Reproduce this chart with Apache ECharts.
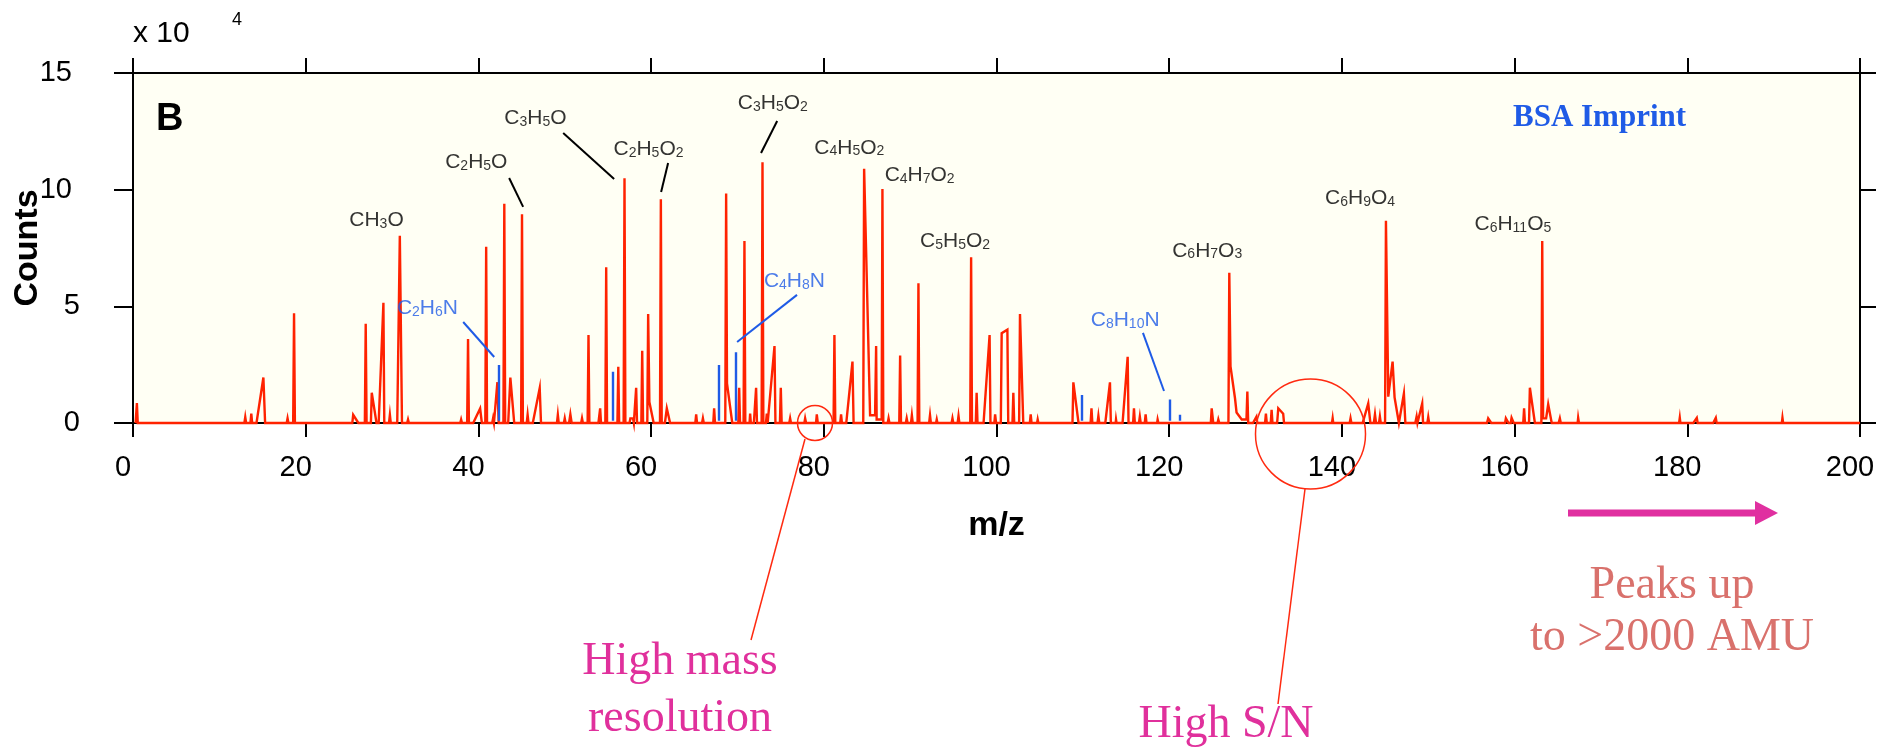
<!DOCTYPE html>
<html lang="en">
<head>
<meta charset="UTF-8">
<title>BSA Imprint</title>
<script src="https://cdn.jsdelivr.net/npm/echarts@6.0.0/dist/echarts.min.js"></script>
<style>
  html, body { margin: 0; padding: 0; background: #fff; }
  #main { width: 1894px; height: 750px; }
</style>
</head>
<body>
<div id="main"></div>
<script>
// spectrum trace, [m/z, counts x 10^4]
var trace0to50 = [
  [0.3,0],[0.45,0.85],[0.55,0],
  [12.9,0],[13.0,0.25],[13.1,0],[13.6,0],[13.7,0.4],[13.8,0],
  [14.3,0],[15.1,1.95],[15.3,0],
  [17.8,0],[17.9,0.2],[18.0,0],[18.55,0],[18.65,4.7],[18.75,0],
  [25.4,0],[25.5,0.35],[26.1,0],[26.85,0],[26.95,4.25],[27.05,0],
  [27.55,0],[27.65,1.3],[28.2,0],[28.45,0],[29.0,5.15],[29.1,0],
  [29.65,0],[29.75,0.35],[29.85,0],
  [30.6,0],[30.9,8.02],[31.15,0],[31.75,0],[31.85,0.15],[31.95,0],
  [37.9,0],[38.0,0.15],[38.1,0],[38.7,0],[38.8,3.6],[38.9,0],
  [39.4,0],[40.2,0.62],[40.4,0],[40.8,0],[40.9,7.55],[41.0,0],
  [41.6,0],[41.7,0.2],[41.8,0],[42.0,0],[42.2,1.75],[42.35,0],
  [42.9,0],[43.0,9.4],[43.1,0],[43.45,0],[43.7,1.95],[44.15,0],
  [44.95,0],[45.05,8.95],[45.15,0],[45.6,0],[45.7,0.35],[45.8,0],
  [46.3,0],[47.1,1.5],[47.25,0],
  [49.1,0],[49.2,0.35],[49.3,0],[49.9,0],[50.0,0.2],[50.1,0]
];
var trace50to100 = [
  [50.5,0],[50.65,0.37],[50.8,0],[51.9,0],[52.0,0.2],[52.1,0],
  [52.65,0],[52.75,3.77],[52.85,0],[53.9,0],[54.1,0.63],[54.2,0],
  [54.7,0],[54.8,6.67],[54.9,0],[56.1,0],[56.2,2.41],[56.3,0],
  [56.82,0],[56.92,10.49],[57.02,0],[57.5,0],[57.6,0.2],[57.9,0.2],[58.0,0],
  [58.17,0],[58.27,1.51],[58.37,0],[58.87,0],[58.97,3.1],[59.07,0],
  [59.56,0],[59.66,4.67],[59.8,0.9],[60.3,0],
  [61.03,0],[61.13,9.59],[61.23,0],[61.6,0],[61.82,0.63],[62.2,0],
  [65.12,0],[65.22,0.37],[65.32,0],[65.9,0],[66.0,0.2],[66.1,0],
  [67.2,0],[67.3,0.63],[67.4,0],
  [68.59,0],[68.69,9.84],[68.79,1.7],[69.4,0],
  [70.1,0],[70.2,1.51],[70.3,0],[70.71,0],[70.81,7.8],[70.91,0],
  [71.4,0],[71.47,0.4],[71.55,0],[71.9,0],[72.16,1.51],[72.26,0],
  [72.8,0],[72.9,11.17],[73.0,0],[73.3,0],[73.4,0.4],[73.5,0],
  [73.7,0],[74.29,3.3],[74.4,0],[74.92,0],[75.02,1.51],[75.12,0],
  [76.0,0],[76.1,0.2],[76.2,0],[77.75,0],[77.84,0.2],[77.95,0],
  [79.1,0],[79.19,0.37],[79.3,0],
  [81.13,0],[81.23,3.77],[81.33,0],[81.9,0],[82.0,0.37],[82.1,0],
  [82.6,0],[83.32,2.63],[83.45,0],
  [84.57,0],[84.67,10.9],[85.36,0.33],[85.94,0.33],[86.06,3.3],[86.12,0.15],[86.7,0.15],
  [86.79,10.03],[86.89,0],
  [87.4,0],[87.5,0.2],[87.6,0],[88.74,0],[88.84,2.89],[88.94,0],
  [89.5,0],[89.6,0.2],[89.7,0],[90.1,0],[90.2,0.33],[90.3,0],
  [90.86,0],[90.96,5.99],[91.06,0],[92.2,0],[92.3,0.33],[92.4,0],
  [93.0,0],[93.08,0.15],[93.16,0],
  [94.8,0],[94.9,0.2],[95.0,0],[95.5,0],[95.6,0.3],[95.7,0],
  [96.96,0],[97.06,7.1],[97.16,0],[97.6,0],[97.7,1.3],[97.8,0],
  [98.5,0],[99.2,3.77],[99.3,0],[99.75,0],[99.84,0.37],[99.95,0]
];
var trace100to150 = [
  [100.5,0],[100.6,3.85],[101.26,4.0],[101.36,0],
  [101.85,0],[101.95,1.3],[102.05,0],[102.62,0],[102.72,4.67],[103.1,0],
  [103.86,0],[103.96,0.37],[104.06,0],[104.7,0],[104.77,0.15],[104.85,0],
  [108.8,0],[108.9,1.74],[109.5,0],
  [110.9,0],[111.0,0.63],[111.1,0],[111.7,0],[111.8,0.3],[111.9,0],
  [112.6,0],[113.14,1.74],[113.24,0],[113.8,0],[113.84,0.15],[113.9,0],
  [114.6,0],[115.19,2.84],[115.29,0],[115.82,0],[115.92,0.63],[116.02,0],
  [116.5,0],[116.6,0.27],[116.7,0],[117.17,0],[117.27,0.37],[117.37,0],
  [118.6,0],[118.66,0.15],[118.75,0],
  [124.82,0],[124.92,0.63],[125.1,0],[125.6,0],[125.69,0.15],[125.8,0],
  [126.86,0],[126.96,6.44],[127.1,2.42],[127.62,1.06],[127.8,0.45],[128.4,0.15],
  [128.95,0.15],[129.05,1.35],[129.15,0],
  [129.7,0],[130.1,0.27],[130.2,0],[131.1,0],[131.2,0.4],[131.3,0],
  [131.76,0],[131.86,0.56],[131.96,0],[132.5,0],[132.63,0.63],[133.2,0.4],[133.3,0],
  [138.85,0],[138.93,0.2],[139.0,0],[140.9,0],[141.0,0.2],[141.1,0],
  [142.4,0],[143.05,0.84],[143.3,0],[143.7,0],[143.83,0.37],[143.95,0],
  [144.3,0],[144.4,0.27],[144.5,0],
  [145.0,0],[145.1,8.67],[145.37,1.13],[145.87,2.63],[146.1,1.1],[146.6,0],
  [147.18,1.26],[147.35,0],
  [148.5,0],[148.65,0.27],[148.75,0],[148.9,0],[149.3,0.84],[149.4,0],
  [149.9,0],[150.0,0.25],[150.1,0]
];
var trace150to200 = [
  [156.8,0],[156.94,0.2],[157.3,0],[158.9,0],[158.99,0.2],[159.3,0],
  [159.55,0],[159.65,0.22],[159.9,0],
  [161.0,0],[161.1,0.63],[161.2,0],[161.67,0],[161.77,1.51],[162.35,0],
  [163.1,0],[163.2,7.8],[163.3,0.2],[163.65,0.2],[163.89,0.8],[164.3,0],
  [165.1,0],[165.24,0.2],[165.35,0],[167.3,0],[167.36,0.22],[167.45,0],
  [179.05,0],[179.13,0.22],[179.2,0],[180.7,0],[181.1,0.22],[181.2,0],
  [183.0,0],[183.3,0.22],[183.4,0],[190.95,0],[191.02,0.22],[191.1,0],
  [200,0]
];

// nitrogen containing peaks (blue sticks): [m/z, counts x 10^4]
var nitrogenPeaks = [[42.4,2.49],[55.6,2.2],[67.84,2.49],[69.85,3.03],[109.9,1.2],[120.1,1.01],[121.2,0.35]];

// peak labels: [text x, text y, formula]
var oxyLabels = [
  [28.2,8.74,'CH3O'],[39.76,11.23,'C2H5O'],[46.6,13.12,'C3H5O'],[59.7,11.8,'C2H5O2'],
  [74.1,13.75,'C3H5O2'],[82.95,11.85,'C4H5O2'],[91.1,10.67,'C4H7O2'],[95.2,7.84,'C5H5O2'],
  [124.4,7.44,'C6H7O3'],[142.1,9.69,'C6H9O4'],[159.8,8.57,'C6H11O5']
];
var nitroLabels = [[34.1,4.97,'C2H6N'],[76.6,6.13,'C4H8N'],[114.9,4.46,'C8H10N']];

// leader lines: [x1, y1, x2, y2]
var oxyLeaders = [[43.56,10.5,45.18,9.26],[49.82,12.43,55.72,10.46],[61.97,11.14,61.16,9.9],[74.6,12.94,72.73,11.57]];
var nitroLeaders = [[38.24,4.33,41.83,2.83],[76.9,5.49,69.96,3.47],[116.96,3.86,119.4,1.37]];

var xTicks = { min: 0, max: 200, step: 20 };
var yTicks = { min: 0, max: 15, step: 5 };

var RED = '#ff2200';
var BLUE = '#1f5be6';
var SANS = 'Liberation Sans, Arial, sans-serif';
var SERIF = 'Liberation Serif, Times New Roman, serif';

function richFormula(f) {
  return f.replace(/([A-Za-z]+)|(\d+)/g, function (m, l, d) {
    return l ? '{a|' + l + '}' : '{s|' + d + '}';
  });
}
function labelSeries(list, color) {
  return {
    type: 'scatter', xAxisIndex: 0, yAxisIndex: 0, silent: true, z: 5,
    symbolSize: 1, itemStyle: { color: 'rgba(0,0,0,0)' },
    data: list.map(function (d) { return { value: [d[0], d[1]], name: d[2] }; }),
    label: {
      show: true, position: 'inside',
      formatter: function (p) { return richFormula(p.name); },
      rich: {
        a: { fontSize: 21, fontFamily: SANS, color: color, lineHeight: 24, verticalAlign: 'bottom' },
        s: { fontSize: 14, fontFamily: SANS, color: color, lineHeight: 24, verticalAlign: 'bottom' }
      }
    }
  };
}
function leaderSeries(list, color) {
  return {
    type: 'lines', coordinateSystem: 'cartesian2d', xAxisIndex: 0, yAxisIndex: 0, silent: true, z: 4,
    lineStyle: { color: color, width: 2, opacity: 1, curveness: 0 },
    data: list.map(function (d) { return { coords: [[d[0], d[1]], [d[2], d[3]]] }; })
  };
}

var myChart = echarts.init(document.getElementById('main'));

var option = {
  animation: false,
  backgroundColor: '#ffffff',
  grid: {
    left: 133, right: 34, top: 73, bottom: 327, containLabel: false, outerBoundsMode: 'none',
    show: true, backgroundColor: '#fffff4', borderWidth: 0
  },
  xAxis: [
    {
      type: 'value', position: 'bottom', min: xTicks.min, max: xTicks.max, interval: xTicks.step,
      axisLine: { show: true, onZero: false, lineStyle: { color: '#000', width: 2 } },
      axisTick: { show: true, inside: false, length: 14, lineStyle: { color: '#000', width: 2 } },
      axisLabel: { color: '#000', fontSize: 29, fontFamily: SANS, margin: 30, padding: [0, 20, 0, 0] },
      splitLine: { show: false },
      name: 'm/z', nameLocation: 'middle', nameGap: 86, nameMoveOverlap: false,
      nameTextStyle: { color: '#000', fontSize: 34, fontWeight: 'bold', fontFamily: SANS }
    },
    {
      type: 'value', position: 'top', min: xTicks.min, max: xTicks.max, interval: xTicks.step,
      axisLine: { show: true, onZero: false, lineStyle: { color: '#000', width: 2 } },
      axisTick: { show: true, inside: false, length: 15, lineStyle: { color: '#000', width: 2 } },
      axisLabel: { show: false }, splitLine: { show: false }
    }
  ],
  yAxis: [
    {
      type: 'value', position: 'left', min: yTicks.min, max: yTicks.max, interval: yTicks.step,
      axisLine: { show: true, onZero: false, lineStyle: { color: '#000', width: 2 } },
      axisTick: { show: true, inside: false, length: 19, lineStyle: { color: '#000', width: 2 } },
      axisLabel: {
        color: '#000', fontSize: 29, fontFamily: SANS, margin: 53,
        formatter: function (v) { return v >= 10 ? '{w|' + v + '}' : '{n|' + v + '}'; },
        rich: {
          w: { fontSize: 29, fontFamily: SANS, color: '#000', padding: [0, 8, 0, 0] },
          n: { fontSize: 29, fontFamily: SANS, color: '#000' }
        }
      },
      splitLine: { show: false },
      name: 'Counts', nameLocation: 'middle', nameGap: 88, nameMoveOverlap: false,
      nameTextStyle: { color: '#000', fontSize: 34, fontWeight: 'bold', fontFamily: SANS }
    },
    {
      type: 'value', position: 'right', min: yTicks.min, max: yTicks.max, interval: yTicks.step,
      axisLine: { show: true, onZero: false, lineStyle: { color: '#000', width: 2 } },
      axisTick: { show: true, inside: false, length: 16, lineStyle: { color: '#000', width: 2 } },
      axisLabel: { show: false }, splitLine: { show: false }
    }
  ],
  series: [
    {
      type: 'line', name: 'BSA Imprint', xAxisIndex: 0, yAxisIndex: 0, z: 3,
      symbol: 'none', silent: true, clip: false,
      lineStyle: { color: RED, width: 2.4, join: 'miter' },
      data: [].concat(trace0to50, trace50to100, trace100to150, trace150to200)
    },
    {
      type: 'lines', coordinateSystem: 'cartesian2d', xAxisIndex: 0, yAxisIndex: 0, silent: true, z: 4,
      lineStyle: { color: BLUE, width: 2.4, opacity: 1 },
      data: nitrogenPeaks.map(function (d) { return { coords: [[d[0], 0.1], [d[0], d[1]]] }; })
    },
    leaderSeries(oxyLeaders, '#000'),
    leaderSeries(nitroLeaders, BLUE),
    labelSeries(oxyLabels, '#000'),
    labelSeries(nitroLabels, BLUE)
  ],
  graphic: [
    { type: 'text', left: 133, top: 19, style: { text: 'x 10', fontSize: 30, fontFamily: SANS, fill: '#000' } },
    { type: 'text', left: 232, top: 11, style: { text: '4', fontSize: 18, fontFamily: SANS, fill: '#000' } },
    { type: 'text', left: 156, top: 101, style: { text: 'B', fontSize: 38, fontWeight: 'bold', fontFamily: SANS, fill: '#000' } },
    { type: 'text', left: 1513, top: 102, style: { text: 'BSA Imprint', fontSize: 31, fontWeight: 'bold', fontFamily: SERIF, fill: BLUE } },
    { type: 'circle', shape: { cx: 815, cy: 423, r: 17.5 }, style: { fill: 'none', stroke: '#ff2a10', lineWidth: 1.5 }, z: 10 },
    { type: 'line', shape: { x1: 805, y1: 439, x2: 751, y2: 640 }, style: { stroke: '#ff2a10', lineWidth: 1.5 }, z: 10 },
    { type: 'circle', shape: { cx: 1310.5, cy: 434, r: 55 }, style: { fill: 'none', stroke: '#ff2a10', lineWidth: 1.5 }, z: 10 },
    { type: 'line', shape: { x1: 1305, y1: 489, x2: 1278, y2: 704 }, style: { stroke: '#ff2a10', lineWidth: 1.5 }, z: 10 },
    { type: 'text', x: 680, y: 690, style: { text: 'High mass\nresolution', fontSize: 46, lineHeight: 57, fontFamily: SERIF, fill: '#e0309c', align: 'center', verticalAlign: 'middle' } },
    { type: 'text', x: 1226, y: 725, style: { text: 'High S/N', fontSize: 46, fontFamily: SERIF, fill: '#e0309c', align: 'center', verticalAlign: 'middle' } },
    { type: 'text', x: 1672, y: 612, style: { text: 'Peaks up\nto >2000 AMU', fontSize: 46, lineHeight: 52, fontFamily: SERIF, fill: '#d9716c', align: 'center', verticalAlign: 'middle' } },
    { type: 'rect', shape: { x: 1568, y: 509.5, width: 190, height: 7 }, style: { fill: '#e030a0' } },
    { type: 'polygon', shape: { points: [[1755, 501], [1778, 513], [1755, 525]] }, style: { fill: '#e030a0' } }
  ]
};
myChart.setOption(option);
</script>
</body>
</html>
